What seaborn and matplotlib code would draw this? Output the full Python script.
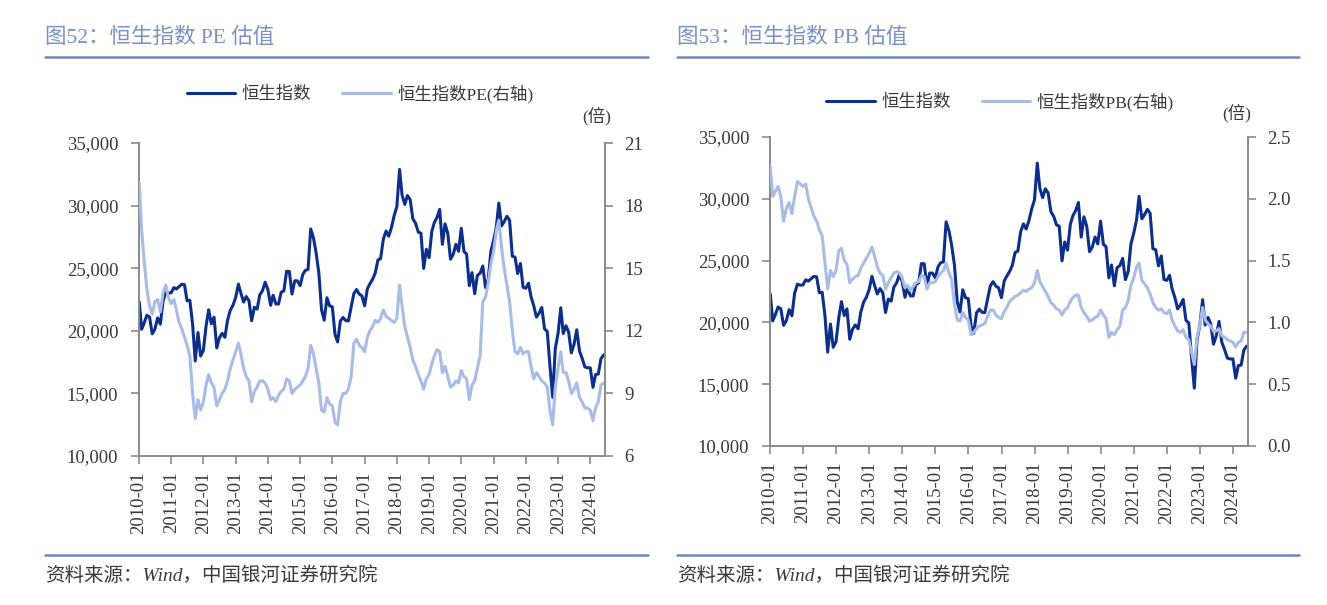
import matplotlib
matplotlib.use("Agg")
import matplotlib.pyplot as plt
from matplotlib.lines import Line2D
from matplotlib.ticker import FuncFormatter
import pandas as pd
import seaborn as sns

# month-end readings, first point = 2010-01-04
dates = pd.to_datetime(["2010-01-04"]).append(pd.date_range("2010-01-31", "2024-05-31", freq="ME"))

hsi = [22300,
       20122, 20609, 21239, 21108, 19765, 20129, 21030, 20537, 22359, 23096, 23008, 23035,
       23447, 23338, 23528, 23720, 23684, 22398, 22440, 20535, 17592, 19864, 17989, 18434,
       20390, 21680, 20556, 21094, 18630, 19441, 19796, 19482, 20840, 21642, 22030, 22657,
       23730, 23020, 22300, 22737, 22392, 20803, 21883, 21731, 22860, 23206, 23881, 23306,
       22035, 22837, 22151, 22134, 23082, 23191, 24757, 24742, 22933, 23998, 23987, 23605,
       24507, 24823, 24901, 28133, 27424, 26250, 24636, 21670, 20846, 22640, 21996, 21914,
       19683, 19112, 20777, 21067, 20815, 20794, 21891, 22977, 23297, 22934, 22790, 22001,
       23361, 23741, 24112, 24615, 25661, 25765, 27324, 27970, 27554, 28246, 29177, 29919,
       32887, 30845, 30093, 30808, 30469, 28955, 28583, 27889, 27789, 24980, 26507, 25846,
       27942, 28633, 29051, 29699, 26901, 28543, 27778, 25725, 26092, 26907, 26346, 28190,
       26313, 26130, 23603, 24644, 22961, 24427, 24595, 25177, 23459, 24107, 26341, 27231,
       28284, 30200, 28378, 28725, 29152, 28828, 25961, 25879, 24576, 25377, 23475, 23398,
       23802, 22713, 21997, 21089, 21415, 21860, 20157, 19954, 17223, 14687, 18597, 19781,
       21842, 19786, 20400, 19895, 18234, 18916, 20079, 18382, 17810, 17112, 17043, 17047,
       15485, 16511, 16541, 17763, 18080]

hsi_pe = [19.1,
          16.8, 15.4, 14.0, 13.2, 12.8, 13.4, 13.5, 12.9, 13.8, 14.2, 13.6, 13.3,
          13.5, 13.0, 12.4, 12.1, 11.7, 11.3, 10.8, 9.0, 7.8, 8.7, 8.2, 8.6,
          9.4, 9.9, 9.5, 9.3, 8.4, 8.7, 9.0, 9.2, 9.6, 10.2, 10.6, 11.0,
          11.4, 10.9, 10.2, 9.8, 9.6, 8.6, 9.1, 9.3, 9.6, 9.6, 9.5, 9.2,
          8.7, 8.8, 8.6, 8.9, 9.1, 9.2, 9.7, 9.6, 9.0, 9.2, 9.3, 9.4,
          9.6, 9.8, 10.2, 11.3, 10.9, 10.2, 9.5, 8.2, 8.1, 8.8, 8.5, 8.4,
          7.6, 7.5, 8.6, 9.0, 9.0, 9.2, 9.8, 11.4, 11.6, 11.3, 11.2, 11.0,
          11.7, 12.0, 12.2, 12.5, 12.4, 12.6, 13.0, 12.7, 12.6, 12.5, 12.4, 12.6,
          14.2, 13.2, 12.2, 11.7, 11.2, 10.6, 10.3, 9.9, 9.6, 9.2, 9.7, 9.9,
          10.4, 10.8, 11.1, 11.0, 10.0, 10.3, 9.8, 9.3, 9.4, 9.6, 9.5, 10.1,
          9.8, 9.7, 8.7, 9.4, 9.6, 10.2, 10.8, 13.4, 13.6, 14.3, 15.2, 15.8,
          16.8, 17.3, 16.0, 15.0, 14.2, 13.4, 12.0, 11.0, 10.9, 11.2, 10.9, 11.0,
          11.0, 10.3, 9.7, 10.0, 9.8, 9.6, 9.5, 9.3, 8.2, 7.5, 9.3, 10.2,
          11.0, 10.0, 10.0, 9.6, 9.0, 9.2, 9.5, 8.8, 8.6, 8.3, 8.3, 8.2,
          7.7, 8.3, 8.6, 9.4, 9.5]

hsi_pb = [2.26,
          2.02, 2.06, 2.10, 2.02, 1.82, 1.92, 1.97, 1.88, 2.02, 2.14, 2.12, 2.10,
          2.12, 2.00, 1.93, 1.86, 1.82, 1.75, 1.70, 1.48, 1.27, 1.42, 1.37, 1.42,
          1.58, 1.60, 1.50, 1.47, 1.32, 1.35, 1.37, 1.38, 1.44, 1.48, 1.52, 1.56,
          1.61, 1.54, 1.45, 1.40, 1.38, 1.27, 1.32, 1.36, 1.40, 1.41, 1.40, 1.36,
          1.28, 1.30, 1.26, 1.29, 1.32, 1.33, 1.38, 1.37, 1.27, 1.32, 1.32, 1.33,
          1.37, 1.40, 1.42, 1.48, 1.40, 1.35, 1.15, 1.02, 1.01, 1.08, 1.04, 1.02,
          0.90, 0.92, 0.95, 0.97, 0.98, 0.99, 1.05, 1.10, 1.10, 1.06, 1.04, 1.03,
          1.09, 1.12, 1.17, 1.19, 1.21, 1.22, 1.24, 1.26, 1.25, 1.27, 1.28, 1.32,
          1.42, 1.33, 1.29, 1.25, 1.21, 1.16, 1.14, 1.11, 1.10, 1.06, 1.10, 1.12,
          1.17, 1.20, 1.22, 1.22, 1.12, 1.08, 1.05, 1.01, 1.02, 1.04, 1.05, 1.10,
          1.06, 1.03, 0.88, 0.92, 0.90, 0.94, 0.97, 1.10, 1.12, 1.18, 1.30, 1.36,
          1.45, 1.48, 1.34, 1.31, 1.28, 1.23, 1.16, 1.12, 1.10, 1.11, 1.08, 1.07,
          1.10, 1.02, 0.97, 0.93, 0.92, 0.94, 0.88, 0.86, 0.76, 0.66, 0.88, 0.98,
          1.12, 1.02, 0.99, 0.97, 0.93, 0.93, 0.95, 0.89, 0.88, 0.86, 0.85, 0.84,
          0.80, 0.84, 0.85, 0.92, 0.92]

titles = ["图52：恒生指数 PE 估值", "图53：恒生指数 PB 估值"]
legend_labels = [["恒生指数", "恒生指数PE(右轴)"], ["恒生指数", "恒生指数PB(右轴)"]]
source = "资料来源：Wind，中国银河证券研究院"
year_ticks = pd.date_range("2010-01-01", "2024-01-01", freq="YS")

df = pd.DataFrame({"date": dates, "hsi": hsi, "pe": hsi_pe, "pb": hsi_pb})

sns.set_style("white")
plt.rcParams["font.family"] = ["Liberation Serif", "Noto Sans CJK SC", "DejaVu Sans"]

DARK = "#0b2f8a"
LIGHT = "#a8bce6"
SPINE = "#8a8a8a"
TXT = "#3a3a3a"
TITLE_C = "#7a90c6"
RULE_C = "#6f86ba"

W, H = 1327, 605
fig = plt.figure(figsize=(W / 100, H / 100), dpi=100)

def px(x0, y0, x1, y1):
    return [x0 / W, 1 - y1 / H, (x1 - x0) / W, (y1 - y0) / H]

boxes = [px(139, 143, 605, 456), px(770, 137, 1248, 446)]
right_cols = ["pe", "pb"]
right_lims = [(6, 21), (0, 2.5)]
right_ticks = [[6, 9, 12, 15, 18, 21], [0, 0.5, 1.0, 1.5, 2.0, 2.5]]
right_fmt = [lambda v, p: f"{v:.0f}", lambda v, p: f"{v:.1f}"]
legend_xy = [(360, 94), (1000, 102)]
unit_xy = [(597, 116), (1237, 113)]
panel_x = [(45, 648), (677, 1299)]

for i in range(2):
    ax = fig.add_axes(boxes[i])
    ax2 = ax.twinx()
    sns.lineplot(data=df, x="date", y="hsi", ax=ax, color=DARK, lw=2.2, label=legend_labels[i][0], legend=False)
    sns.lineplot(data=df, x="date", y=right_cols[i], ax=ax2, color=LIGHT, lw=2.2, label=legend_labels[i][1], legend=False)

    ax.set_xlim(pd.Timestamp("2010-01-01"), pd.Timestamp("2024-06-15"))
    ax.set_ylim(10000, 35000)
    ax.set_yticks(range(10000, 35001, 5000))
    ax.yaxis.set_major_formatter(FuncFormatter(lambda v, p: f"{v:,.0f}"))
    ax2.set_ylim(*right_lims[i])
    ax2.set_yticks(right_ticks[i])
    ax2.yaxis.set_major_formatter(FuncFormatter(right_fmt[i]))
    ax.set_xticks(year_ticks)
    ax.set_xticklabels([d.strftime("%Y-%m") for d in year_ticks], rotation=90)
    ax.set_xlabel("")
    ax.set_ylabel("")
    ax2.set_ylabel("")

    for a in (ax, ax2):
        for s in a.spines.values():
            s.set_visible(False)
            s.set_color(SPINE)
            s.set_linewidth(1.4)
    ax.spines["left"].set_visible(True)
    ax.spines["bottom"].set_visible(True)
    ax2.spines["right"].set_visible(True)
    ax.tick_params(axis="y", left=True, length=6, width=1.2, color=SPINE, pad=9, labelsize=13.5, labelcolor=TXT)
    ax.tick_params(axis="x", bottom=True, length=6, width=1.2, color=SPINE, pad=5, labelsize=13.5, labelcolor=TXT)
    ax2.tick_params(axis="y", right=True, length=6, width=1.2, color=SPINE, pad=8, labelsize=13.5, labelcolor=TXT)
    ax.grid(False)
    ax2.grid(False)

    h1, l1 = ax.get_legend_handles_labels()
    h2, l2 = ax2.get_legend_handles_labels()
    fig.legend(h1 + h2, l1 + l2, loc="center", bbox_to_anchor=(legend_xy[i][0] / W, 1 - legend_xy[i][1] / H),
               ncol=2, frameon=False, fontsize=12.5, handlelength=2.8, columnspacing=1.8,
               handletextpad=0.35, labelcolor=TXT)

    fig.text(unit_xy[i][0] / W, 1 - unit_xy[i][1] / H, "(倍)", ha="center", va="center", fontsize=12.5, color=TXT)

    x0, x1 = panel_x[i]
    fig.text(x0 / W, 1 - 38 / H, titles[i], ha="left", va="center", fontsize=15.5, color=TITLE_C)
    fig.add_artist(Line2D([x0 / W, x1 / W], [1 - 57 / H] * 2, color=RULE_C, lw=1.8))
    fig.add_artist(Line2D([x0 / W, x1 / W], [1 - 555 / H] * 2, color=RULE_C, lw=1.8))
    fig.text(x0 / W, 1 - 576 / H, source, ha="left", va="center", fontsize=14, color=TXT, style="italic")

fig.savefig("out.png", dpi=100, facecolor="white")
